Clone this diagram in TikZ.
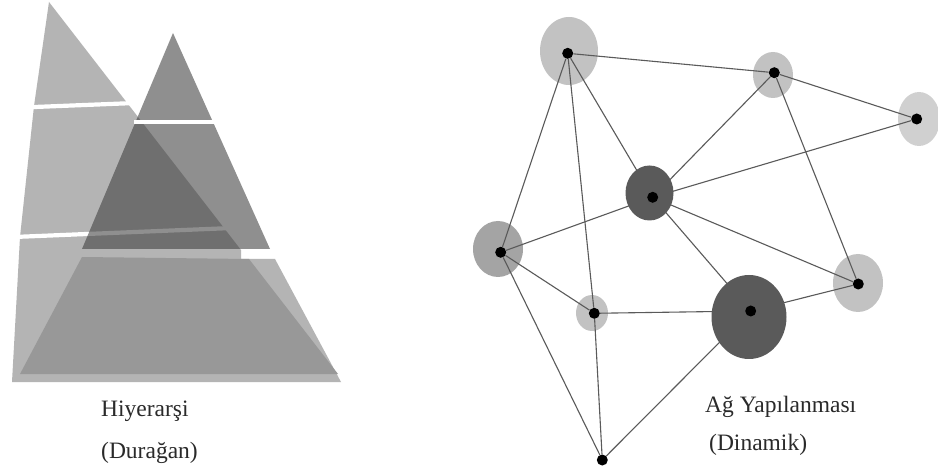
\documentclass[tikz,border=0pt]{standalone}
\usepackage{fontspec}
\setmainfont{Liberation Serif}
\definecolor{pa}{HTML}{B4B4B4}
\definecolor{pb}{HTML}{3C3C3C}
\definecolor{pc}{HTML}{989898}
\definecolor{edgegray}{HTML}{5A5A5A}
\definecolor{txt}{HTML}{2A2A2A}
\definecolor{hlight}{HTML}{C2C2C2}
\definecolor{hpale}{HTML}{D0D0D0}
\definecolor{hmid}{HTML}{A4A4A4}
\definecolor{hdark}{HTML}{5A5A5A}
\begin{document}
\begin{tikzpicture}[x=1pt,y=-1pt,
  dot/.style={circle,fill=black,inner sep=0pt,minimum size=11pt},
  link/.style={draw=edgegray,line width=1.1pt},
  gapline/.style={draw=white,line width=4.2pt},
  lbl/.style={font=\fontsize{23.5}{28}\selectfont,text=txt,inner sep=0pt,anchor=base west}]
\useasboundingbox[fill=white] (0,0) rectangle (938,473);

% ---- Hierarchy (pyramids) ----
\fill[pa] (49,2) -- (241,250) -- (241,259) -- (275,259) -- (341,382) -- (12,382) -- (20,237) -- (34,106) -- cycle;
\draw[gapline] (22,107.5) -- (135,103);
\draw[gapline] (14,237) -- (232,228);
\fill[pb,opacity=0.573] (173,33) -- (270,249) -- (82,249) -- cycle;
\draw[gapline] (134,122) -- (214,122);
\fill[pc] (82,257) -- (249,259) -- (338,374) -- (20,374) -- cycle;

\node[lbl] (t1) at (101,417) {Hiyerarşi};
\node[lbl] (t2) at (101,458) {(Durağan)};

% ---- Network ----
\fill[hlight] (569,51) ellipse [x radius=29pt, y radius=34pt];
\fill[hlight] (773,75) ellipse [x radius=20pt, y radius=23pt];
\fill[hpale] (919,119) ellipse [x radius=21pt, y radius=27pt];
\fill[hdark] (649.5,193) ellipse [x radius=24pt, y radius=27.5pt];
\fill[hmid] (498,249) ellipse [x radius=25pt, y radius=28pt];
\fill[hlight] (592,313) ellipse [x radius=16pt, y radius=18pt];
\fill[hdark] (749,317) ellipse [x radius=37.5pt, y radius=42pt];
\fill[hlight] (858,283) ellipse [x radius=25pt, y radius=29pt];

\node[dot] (n1) at (567.7,53.3) {};
\node[dot] (n2) at (774.3,72.7) {};
\node[dot] (n3) at (916.7,119) {};
\node[dot] (n4) at (652.7,197.3) {};
\node[dot] (n5) at (500.7,252.3) {};
\node[dot] (n6) at (594.3,313.3) {};
\node[dot] (n7) at (750.7,311) {};
\node[dot] (n8) at (858.3,284) {};
\node[dot] (n9) at (602.3,460) {};

\foreach \a/\b in {n1/n2,n1/n5,n1/n6,n1/n4,n2/n3,n2/n4,n2/n8,n3/n4,n4/n5,n4/n7,n4/n8,n5/n6,n5/n9,n6/n7,n6/n9,n7/n8,n7/n9}
  \draw[link] (\a) -- (\b);

\node[lbl] (t3) at (705,412) {Ağ Yapılanması};
\node[lbl] (t4) at (709,450) {(Dinamik)};
\end{tikzpicture}
\end{document}
